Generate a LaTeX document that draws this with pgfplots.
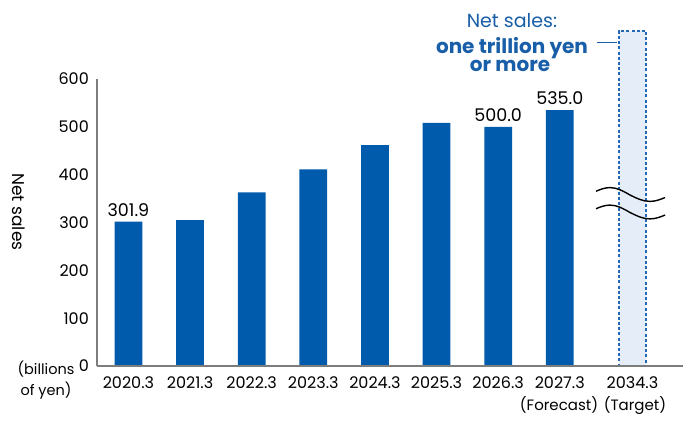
\documentclass[border=0pt]{standalone}
\usepackage{fontspec}
\setmainfont{Poppins}
\usepackage{pgfplots}
\pgfplotsset{compat=1.18}

\definecolor{barblue}{RGB}{0,91,172}
\definecolor{txtblue}{RGB}{24,94,168}
\definecolor{tgtfill}{RGB}{229,238,248}
\definecolor{tgtline}{RGB}{34,104,182}
\definecolor{axgray}{RGB}{125,125,125}

\begin{document}
\begin{tikzpicture}
% overall canvas: axis box starts at the origin
\path[use as bounding box] (-97pt,-54pt) rectangle (593pt,366pt);

\begin{axis}[
  scale only axis, width=586pt, height=287pt,
  xmin=-0.51, xmax=9.0, ymin=0, ymax=600,
  axis x line=bottom, axis y line=left,
  axis line style={-, axgray, line width=1.3pt},
  axis on top,
  ytick={0,100,...,600},
  xtick={0,1,2,3,4,5,6,7,8.18},
  xticklabels={2020.3,2021.3,2022.3,2023.3,2024.3,2025.3,2026.3,2027.3,2034.3},
  major tick length=0pt,
  /pgf/number format/assume math mode=true,
  tick label style={font=\fontsize{16}{18}\selectfont, text=black},
  yticklabel style={anchor=east, inner sep=0pt, xshift=-8pt},
  xticklabel style={anchor=north, inner sep=0pt, yshift=-10.5pt},
  clip=false,
  ybar, bar width=0.45, bar shift=0pt,
]
% results and forecast
\addplot[fill=barblue, draw=none] coordinates {
  (0,301.9) (1,305) (2,363) (3,411) (4,462) (5,508.5) (6,500.0) (7,535.0)
};
% target bar (axis broken above the plotted range)
\addplot[fill=tgtfill, draw=tgtline, line width=1.9pt, dash pattern=on 3pt off 2.2pt]
  coordinates {(8.18,700)};

\node[anchor=south, inner sep=0pt, yshift=5pt, font=\fontsize{17.5}{20}\selectfont] at (axis cs:0,301.9) {301.9};
\node[anchor=south, inner sep=0pt, yshift=5pt, font=\fontsize{17.5}{20}\selectfont] at (axis cs:6,500.0) {500.0};
\node[anchor=south, inner sep=0pt, yshift=5pt, font=\fontsize{17.5}{20}\selectfont] at (axis cs:7,535.0) {535.0};
\end{axis}

\begin{scope}[x=1pt, y=1pt]
% axis title and unit
\node[rotate=-90, font=\fontsize{17}{20}\selectfont] at (-78,154) {Net sales};
\node[anchor=base, font=\fontsize{14.5}{17}\selectfont] at (-51,-8) {(billions};
\node[anchor=base, font=\fontsize{14.5}{17}\selectfont] at (-51,-29) {of yen)};
% notes under the tick labels
\node[anchor=base, font=\fontsize{15}{17}\selectfont] at (462,-44) {(Forecast)};
\node[anchor=base, font=\fontsize{15}{17}\selectfont] at (538,-44) {(Target)};
% break marks
\draw[line width=1.4pt, black] (499,174.8) sin (513,178.4) cos (533,171) sin (553,164.6) cos (568,168.4);
\draw[line width=1.4pt, black] (499,157.3) sin (513,160.9) cos (533,153.5) sin (553,147.1) cos (568,150.9);
% target callout
\node[anchor=base, text=txtblue, font=\fontsize{19}{22}\selectfont] at (415,338.7) {Net sales:};
\node[anchor=base, text=txtblue, font=\fontsize{20}{23}\selectfont\bfseries] at (415,312.7) {one trillion yen};
\node[anchor=base, text=txtblue, font=\fontsize{20}{23}\selectfont\bfseries] at (413,294.3) {or more};
\draw[txtblue, line width=1.3pt] (499.7,323.3) -- (519.7,323.3);
\end{scope}
\end{tikzpicture}
\end{document}
